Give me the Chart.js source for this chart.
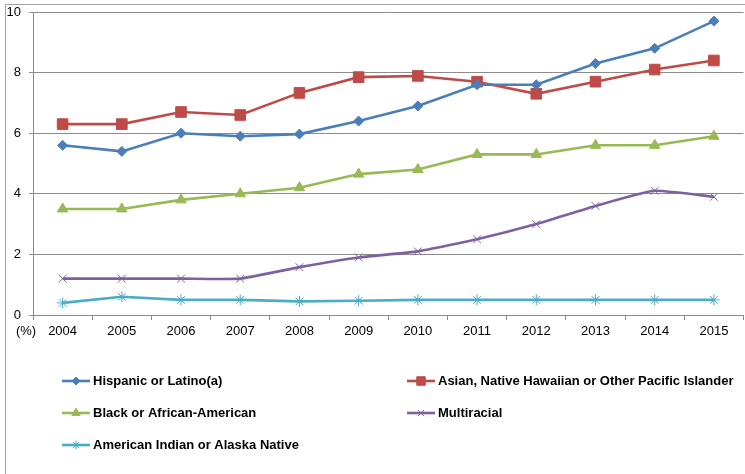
<!DOCTYPE html>
<html>
<head>
<meta charset="utf-8">
<script src="https://cdn.jsdelivr.net/npm/chart.js@4/dist/chart.umd.min.js"></script>
<style>
  html, body { margin: 0; padding: 0; background: #fff; overflow: hidden; }
  #wrap { position: relative; width: 752px; height: 474px; }
</style>
</head>
<body>
<div id="wrap"><canvas id="chart"></canvas></div>
<script>
const years = ['2004', '2005', '2006', '2007', '2008', '2009', '2010', '2011', '2012', '2013', '2014', '2015']
const hispanic = [5.6, 5.4, 6.0, 5.9, 5.97, 6.4, 6.9, 7.6, 7.6, 8.3, 8.8, 9.7]
const asian = [6.3, 6.3, 6.7, 6.6, 7.33, 7.85, 7.89, 7.7, 7.3, 7.7, 8.1, 8.4]
const black = [3.5, 3.5, 3.8, 4.0, 4.2, 4.65, 4.8, 5.3, 5.3, 5.6, 5.6, 5.9]
const multiracial = [1.2, 1.2, 1.2, 1.2, 1.58, 1.9, 2.1, 2.5, 3.0, 3.6, 4.1, 3.9]
const amIndian = [0.4, 0.6, 0.5, 0.5, 0.45, 0.47, 0.5, 0.5, 0.5, 0.5, 0.5, 0.5]

const FONT = "'Liberation Sans Narrow', 'Liberation Sans', Arial, sans-serif"
const GRID = '#8c8c8c'

function series(label, data, color, style, radius, tension) {
  return {
    label: label,
    data: data,
    borderColor: color,
    backgroundColor: color,
    borderWidth: 2.6,
    pointStyle: style,
    pointRadius: radius,
    pointBorderWidth: 1,
    pointBorderColor: color,
    pointBackgroundColor: color,
    tension: tension || 0
  }
}

// legend drawn by hand in two columns, like the excel one
const legendPos = [
  { x: 62, y: 381 }, { x: 407, y: 381 },
  { x: 62, y: 413 }, { x: 407, y: 413 },
  { x: 62, y: 445 }
]

const extras = {
  id: 'extras',
  beforeDraw(chart) {
    const ctx = chart.ctx
    ctx.save()
    ctx.strokeStyle = '#a0a0a0'
    ctx.lineWidth = 1
    ctx.beginPath()
    ctx.moveTo(5.5, 474)
    ctx.lineTo(5.5, 4.5)
    ctx.lineTo(chart.width, 4.5)
    ctx.stroke()
    ctx.restore()
  },
  afterDraw(chart) {
    const ctx = chart.ctx
    ctx.save()
    ctx.fillStyle = '#000'
    ctx.font = '13px ' + FONT
    ctx.textAlign = 'center'
    ctx.textBaseline = 'middle'
    ctx.fillText('(%)', 26, 331)

    chart.data.datasets.forEach((ds, i) => {
      const p = legendPos[i]
      ctx.strokeStyle = ds.borderColor
      ctx.lineWidth = 2.6
      ctx.beginPath()
      ctx.moveTo(p.x, p.y)
      ctx.lineTo(p.x + 28, p.y)
      ctx.stroke()
      ctx.fillStyle = ds.borderColor
      ctx.lineWidth = 1
      Chart.helpers.drawPoint(ctx, { pointStyle: ds.pointStyle, radius: ds.pointRadius * 0.8, borderWidth: 1 }, p.x + 14, p.y)
      ctx.fillStyle = '#000'
      ctx.font = 'bold 13px ' + FONT
      ctx.textAlign = 'left'
      ctx.fillText(ds.label, p.x + 31, p.y)
    })
    ctx.restore()
  }
}

new Chart(document.getElementById('chart'), {
  type: 'line',
  data: {
    labels: years,
    datasets: [
      series('Hispanic or Latino(a)', hispanic, '#4a7ebb', 'rectRot', 5),
      series('Asian, Native Hawaiian or Other Pacific Islander', asian, '#be4b48', 'rect', 7.5),
      series('Black or African-American', black, '#98b954', 'triangle', 6),
      series('Multiracial', multiracial, '#7d60a0', 'crossRot', 5.5, 0.15),
      series('American Indian or Alaska Native', amIndian, '#4bacc6', 'star', 5.5)
    ]
  },
  options: {
    responsive: true,
    maintainAspectRatio: false,
    animation: false,
    layout: { padding: { top: 12, bottom: 129, left: 0, right: 1 } },
    plugins: {
      legend: { display: false },
      tooltip: { enabled: false }
    },
    scales: {
      x: {
        offset: true,
        grid: { offset: true, drawOnChartArea: false, color: GRID, tickLength: 5 },
        border: { color: GRID },
        ticks: { color: '#000', padding: 4, maxRotation: 0, font: { family: FONT, size: 13 } },
        afterFit(scale) { scale.height = 30; scale.paddingLeft = 0; scale.paddingRight = 0 }
      },
      y: {
        min: 0,
        max: 10,
        grid: { color: GRID, tickLength: 4 },
        border: { color: GRID },
        ticks: { stepSize: 2, color: '#000', padding: 8, font: { family: FONT, size: 13 } },
        afterFit(scale) { scale.width = 33; scale.paddingTop = 0; scale.paddingBottom = 0 }
      }
    }
  },
  plugins: [extras]
})
</script>
</body>
</html>
